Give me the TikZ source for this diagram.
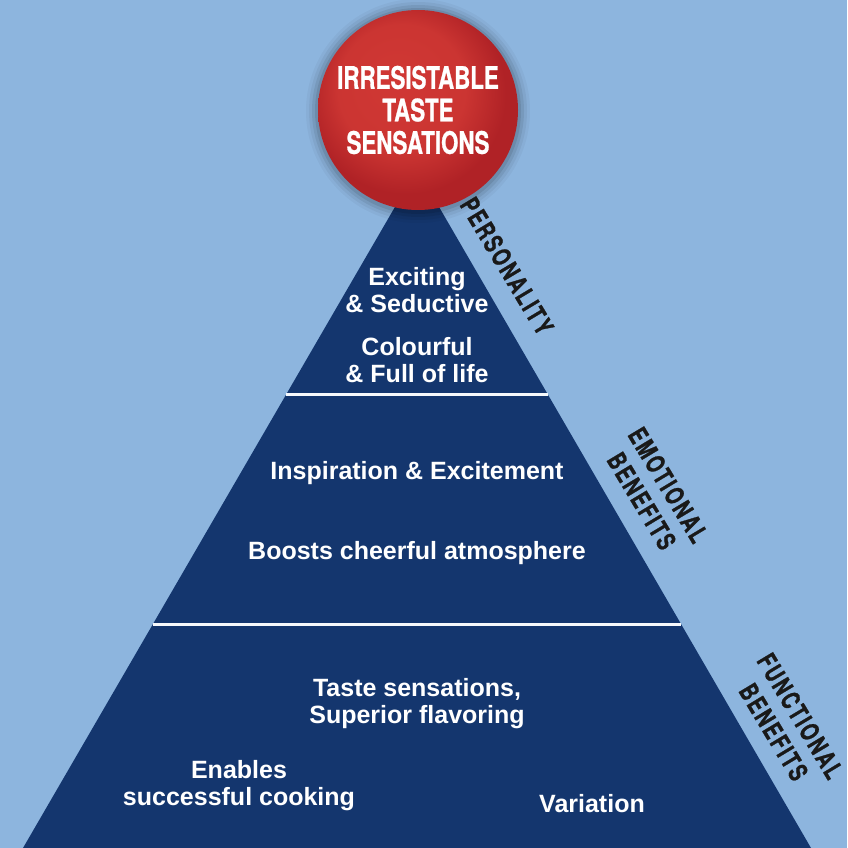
\documentclass[tikz,border=0pt]{standalone}
\usepackage{fontspec}
\setmainfont{Liberation Sans}
\newfontfamily\condfont[FakeStretch=0.72,FakeBold=0.8]{TeX Gyre Heros}
\newfontfamily\sidefont[FakeStretch=0.72,LetterSpace=8,FakeBold=1]{TeX Gyre Heros}
\usetikzlibrary{calc}
\definecolor{skyblue}{RGB}{141,181,222}
\definecolor{navy}{RGB}{20,54,110}
\definecolor{redlight}{RGB}{208,56,52}
\definecolor{reddark}{RGB}{176,34,38}
\pgfdeclareradialshading{redball}{\pgfpoint{-6bp}{8bp}}{%
  color(0bp)=(redlight); color(16bp)=(redlight!85!reddark); color(25bp)=(reddark); color(50bp)=(reddark)}
\tikzset{
  tiertext/.style={text=white, font=\bfseries\fontsize{25}{27}\selectfont, align=center},
  sidelabel/.style={text=black!90, font=\sidefont\bfseries\fontsize{26}{31}\selectfont, align=center, rotate=-59},
  divider/.style={draw=white!92!skyblue, line width=3pt},
  balltext/.style={text=white, font=\condfont\bfseries\fontsize{31}{32.5}\selectfont, align=center}
}
\begin{document}
\begin{tikzpicture}[x=1pt,y=-1pt]
  \useasboundingbox (0,0) rectangle (847,848);
  \fill[skyblue] (0,0) rectangle (847,848);

  % pyramid
  \coordinate (apex) at (417,169);
  \coordinate (bl) at (23,848);
  \coordinate (br) at (811,848);
  \fill[navy] (apex) -- (bl) -- (br) -- cycle;

  % tier dividers
  \coordinate (d1l) at ($(apex)!0.3328!(bl)$);
  \coordinate (d1r) at ($(apex)!0.3328!(br)$);
  \coordinate (d2l) at ($(apex)!0.6701!(bl)$);
  \coordinate (d2r) at ($(apex)!0.6701!(br)$);
  \draw[divider] (d1l) -- (d1r);
  \draw[divider] (d2l) -- (d2r);

  % soft shadow round the ball
  \foreach \r/\o in {112/0.035,109/0.05,106/0.07,103/0.09}
    \fill[black, opacity=\o] (418,111) circle[radius=\r];
  \shade[shading=redball] (418,110) circle[radius=100];
  \node[balltext] (ball) at (418,110) {IRRESISTABLE\\TASTE\\SENSATIONS};

  % tier texts
  \node[tiertext] (t1) at (417,290) {Exciting\\\& Seductive};
  \node[tiertext] (t2) at (417,360) {Colourful\\\& Full of life};
  \node[tiertext] (e1) at (417,473) {Inspiration \& Excitement};
  \node[tiertext] (e2) at (417,553) {Boosts cheerful atmosphere};
  \node[tiertext] (f1) at (417,704) {Taste sensations,\\Superior flavoring};
  \node[tiertext] (f2) at (239,786) {Enables\\successful cooking};
  \node[tiertext] (f3) at (592,804) {Variation};

  % side labels
  \node[sidelabel] (lp) at (507,266) {PERSONALITY};
  \node[sidelabel] (le) at (655,493) {EMOTIONAL\\BENEFITS};
  \node[sidelabel] (lf) at (787,724) {FUNCTIONAL\\BENEFITS};
\end{tikzpicture}
\end{document}
